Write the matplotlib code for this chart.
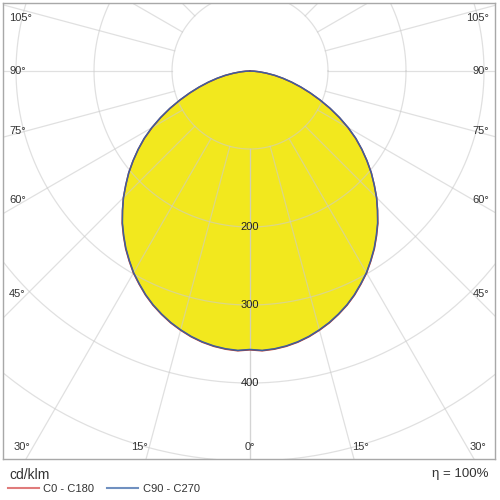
import numpy as np
import matplotlib
matplotlib.use('Agg')
import matplotlib.pyplot as plt

plt.rcParams['font.family'] = ['Liberation Sans', 'DejaVu Sans']

# gamma angles (deg from nadir, 2.5 deg steps) and intensities in cd/klm
gamma = [0, 2.5, 5, 7.5, 10, 12.5, 15, 17.5, 20, 22.5, 25, 27.5, 30, 32.5, 35, 37.5, 40, 42.5,
         45, 47.5, 50, 52.5, 55, 57.5, 60, 62.5, 65, 67.5, 70, 72.5, 75, 77.5, 80, 82.5, 85, 87.5, 90]
c0_c180 = [357.5, 359, 358, 356, 353, 349, 344, 338.5, 332, 325, 317, 308, 299, 288.5, 278, 266.5, 255, 242,
           229.5, 216, 203, 189, 175, 160.5, 145, 129, 113, 97, 82, 68, 55, 43, 32, 21, 12, 5, 0]
c90_c270 = [357, 358.5, 357.5, 355.5, 352.5, 348.5, 343.5, 338, 331.5, 324.5, 316.5, 307.5, 298.5, 288, 277.5, 266, 254.5, 242,
            229.5, 216, 203, 189, 175, 161, 145.5, 129.5, 113.5, 97.5, 82.5, 68.5, 55.5, 43.5, 32.5, 21.5, 12.5, 5.5, 1]

ring_values = [100, 200, 300, 400, 500]
ring_labels = ['200', '300', '400']
spoke_angles = list(range(0, 181, 15))
left_labels = ['105°', '90°', '75°', '60°', '45°']
bottom_labels = ['30°', '15°', '0°', '15°', '30°']


def to_xy(ang, val):
    # both halves of the plane: left side is C180 / C270, right side C0 / C90
    a = np.radians(np.concatenate([-np.array(ang)[::-1], np.array(ang)[1:]]))
    v = np.concatenate([np.array(val)[::-1], np.array(val)[1:]])
    return v * np.sin(a), -v * np.cos(a)


fig = plt.figure(figsize=(5, 5), dpi=100)
ax = fig.add_axes([3 / 500, 41 / 500, 492 / 500, 456 / 500])
ax.set_xlim(-316.7, 314.1)
ax.set_ylim(-497.4, 87.2)
ax.set_xticks([])
ax.set_yticks([])
for spine in ax.spines.values():
    spine.set_color('#a8a8a8')
    spine.set_linewidth(1)

x0, y0 = to_xy(gamma, c0_c180)
x90, y90 = to_xy(gamma, c90_c270)
ax.fill(x0, y0, color='#f2e81e', zorder=1, lw=0)

# grid
t = np.linspace(0, 2 * np.pi, 400)
for r in ring_values:
    ax.plot(r * np.cos(t), r * np.sin(t), color='#cccccc', lw=0.9, alpha=0.6, zorder=2)
for a in spoke_angles:
    for s in (-1, 1):
        ar = np.radians(s * a)
        ax.plot([100 * np.sin(ar), 1000 * np.sin(ar)], [-100 * np.cos(ar), -1000 * np.cos(ar)],
                color='#cccccc', lw=0.9, alpha=0.6, zorder=2)

ax.plot(x0, y0, color='#c0392b', lw=1.1, zorder=3)
ax.plot(x90, y90, color='#3d5f9e', lw=1.1, zorder=3)

for lab, r in zip(ring_labels, ring_values[1:4]):
    ax.text(0, -r, lab, ha='center', va='center', fontsize=8, color='#222222', zorder=4)


def px(x, y):
    return x / 500, 1 - y / 500


tc = '#333333'
left_y = [18, 71, 131, 200, 294]
for lab, yy in zip(left_labels, left_y):
    fig.text(*px(9, yy), lab, ha='left', va='center', fontsize=8, color=tc)
    fig.text(*px(489, yy), lab, ha='right', va='center', fontsize=8, color=tc)
bottom_x = [22, 139, 250, 360, 478]
for lab, xx in zip(bottom_labels, bottom_x):
    fig.text(*px(xx, 447), lab, ha='center', va='center', fontsize=8, color=tc)

fig.text(*px(9, 475), 'cd/klm', ha='left', va='center', fontsize=10, color=tc)
fig.text(*px(489, 474), 'η = 100%', ha='right', va='center', fontsize=9.5, color=tc)
fig.add_artist(plt.Line2D([8 / 500, 39 / 500], [1 - 488 / 500] * 2, color='#e07b7b', lw=1.5))
fig.text(*px(43, 489), 'C0 - C180', ha='left', va='center', fontsize=8, color=tc)
fig.add_artist(plt.Line2D([107 / 500, 138 / 500], [1 - 488 / 500] * 2, color='#7090c0', lw=1.5))
fig.text(*px(143, 489), 'C90 - C270', ha='left', va='center', fontsize=8, color=tc)

fig.savefig('out.png', dpi=100)
